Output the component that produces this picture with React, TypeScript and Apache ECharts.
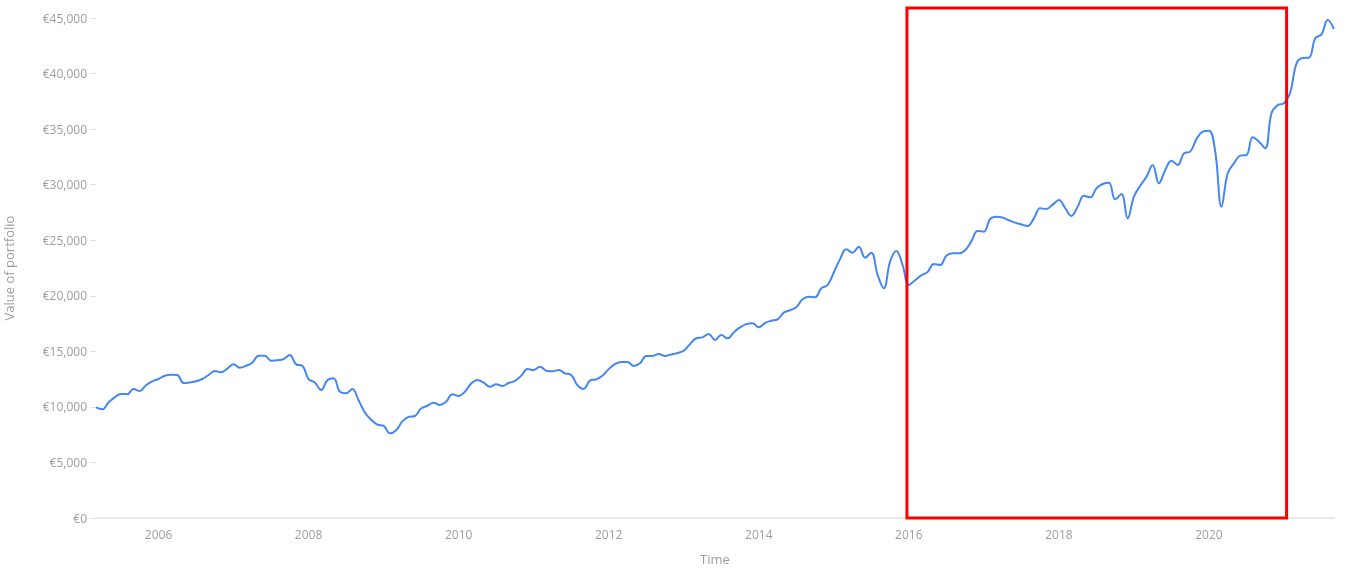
import React, { useEffect, useRef } from "react";
import * as echarts from "echarts";

// Month-end portfolio values (EUR), one array per calendar year
const firstYear = 2005;
const firstMonth = 2; // data starts at end of February 2005
const values2005 = [9950, 9780, 10400, 10850, 11160, 11140, 11600, 11430, 11950, 12300, 12510];
const values2006 = [12800, 12900, 12880, 12150, 12200, 12300, 12510, 12870, 13230, 13110, 13450, 13830];
const values2007 = [13530, 13700, 13980, 14610, 14600, 14160, 14200, 14300, 14670, 13830, 13710, 12500];
const values2008 = [12200, 11520, 12400, 12570, 11370, 11220, 11600, 10600, 9500, 8850, 8400, 8300];
const values2009 = [7620, 7900, 8700, 9100, 9180, 9850, 10100, 10380, 10170, 10470, 11130, 10980];
const values2010 = [11370, 12100, 12420, 12180, 11820, 12030, 11880, 12150, 12350, 12800, 13410, 13320];
const values2011 = [13620, 13260, 13200, 13320, 13020, 12870, 11950, 11610, 12360, 12480, 12800, 13400];
const values2012 = [13850, 14050, 14050, 13680, 13920, 14580, 14580, 14760, 14580, 14720, 14850, 15050];
const values2013 = [15650, 16180, 16260, 16560, 16020, 16470, 16170, 16700, 17150, 17450, 17520, 17160];
const values2014 = [17550, 17750, 17880, 18480, 18700, 18960, 19680, 19920, 19860, 20670, 20970, 22100];
const values2015 = [23300, 24180, 23880, 24420, 23430, 23880, 21900, 20670, 23070, 24030, 22770, 20970];
const values2016 = [21400, 21850, 22150, 22860, 22770, 23600, 23820, 23820, 24100, 24900, 25830, 25770];
const values2017 = [26910, 27120, 27050, 26800, 26580, 26420, 26280, 26970, 27870, 27810, 28200, 28620];
const values2018 = [27900, 27180, 28020, 29010, 28860, 29670, 30060, 30180, 28680, 29160, 26970, 28920];
const values2019 = [29900, 30700, 31770, 30120, 31300, 32160, 31770, 32820, 32970, 34100, 34770, 34860];
const values2020 = [33000, 28020, 31020, 31920, 32610, 32670, 34260, 33870, 33270, 36420, 37170, 37320];
const values2021 = [38300, 40900, 41400, 41430, 43170, 43530, 44820, 44010];

const yearlyValues = [
  values2005, values2006, values2007, values2008, values2009, values2010,
  values2011, values2012, values2013, values2014, values2015, values2016,
  values2017, values2018, values2019, values2020, values2021,
];

const xTickYears = [2006, 2008, 2010, 2012, 2014, 2016, 2018, 2020];
const yMax = 45000;
const yStep = 5000;

// Highlighted period (annotation box)
const boxStart = 2015.975;
const boxEnd = 2021.035;
const boxTop = 45900;
const boxBottom = 0;

function buildSeries(): [number, number][] {
  const out: [number, number][] = [];
  yearlyValues.forEach((arr, yi) => {
    const year = firstYear + yi;
    const startMonth = yi === 0 ? firstMonth : 1;
    arr.forEach((v, i) => {
      const month = startMonth + i; // month-end
      out.push([year + month / 12, v]);
    });
  });
  return out;
}

export default function App() {
  const ref = useRef<HTMLDivElement>(null);
  useEffect(() => {
    if (!ref.current) return;
    const chart = echarts.init(ref.current, null, { renderer: "svg" });
    const data = buildSeries();
    const xMin = data[0][0];
    const xMax = data[data.length - 1][0];
    const labelColor = "#a09d9a";
    const font = "'Open Sans', 'Noto Sans', sans-serif";
    chart.setOption({
      animation: false,
      grid: {
        left: 96,
        right: 13,
        top: 18,
        bottom: 57,
        containLabel: false,
        outerBoundsMode: "none",
      },
      xAxis: {
        type: "value",
        min: xMin,
        max: xMax,
        name: "Time",
        nameLocation: "middle",
        nameGap: 34,
        nameTextStyle: { color: labelColor, fontSize: 13, fontFamily: font },
        axisLine: { show: true, lineStyle: { color: "#e8e8e8", width: 2 } },
        axisTick: { show: false, customValues: xTickYears },
        splitLine: { show: false },
        axisLabel: {
          customValues: xTickYears,
          formatter: (v: number) => String(Math.round(v)),
          color: labelColor,
          fontSize: 12,
          fontFamily: font,
          margin: 10,
        },
      },
      yAxis: {
        type: "value",
        min: 0,
        max: yMax,
        interval: yStep,
        name: "Value of portfolio",
        nameLocation: "middle",
        nameGap: 80,
        nameTextStyle: { color: labelColor, fontSize: 13, fontFamily: font, lineHeight: 14 },
        axisLine: { show: false },
        axisTick: { show: true, length: 6, lineStyle: { color: "#e2e2e2" } },
        splitLine: { show: false },
        axisLabel: {
          formatter: (v: number) => "€" + v.toLocaleString("en-US"),
          color: labelColor,
          fontSize: 12,
          fontFamily: font,
          margin: 9,
        },
      },
      series: [
        {
          type: "line",
          data,
          smooth: 0.4,
          showSymbol: false,
          lineStyle: { color: "#4587f2", width: 2 },
          itemStyle: { color: "#4587f2" },
          clip: false,
        },
      ],
    });
    const p1 = chart.convertToPixel({ gridIndex: 0 }, [boxStart, boxTop]) as number[];
    const p2 = chart.convertToPixel({ gridIndex: 0 }, [boxEnd, boxBottom]) as number[];
    chart.setOption({
      graphic: [
        {
          type: "rect",
          shape: { x: p1[0], y: p1[1], width: p2[0] - p1[0], height: p2[1] - p1[1] },
          style: { fill: "none", stroke: "#ff0000", lineWidth: 3 },
          z: 100,
        },
      ],
    });
    return () => chart.dispose();
  }, []);
  return (
    <div
      ref={ref}
      style={{ position: "fixed", left: 0, top: 0, width: 1347, height: 575 }}
    />
  );
}
